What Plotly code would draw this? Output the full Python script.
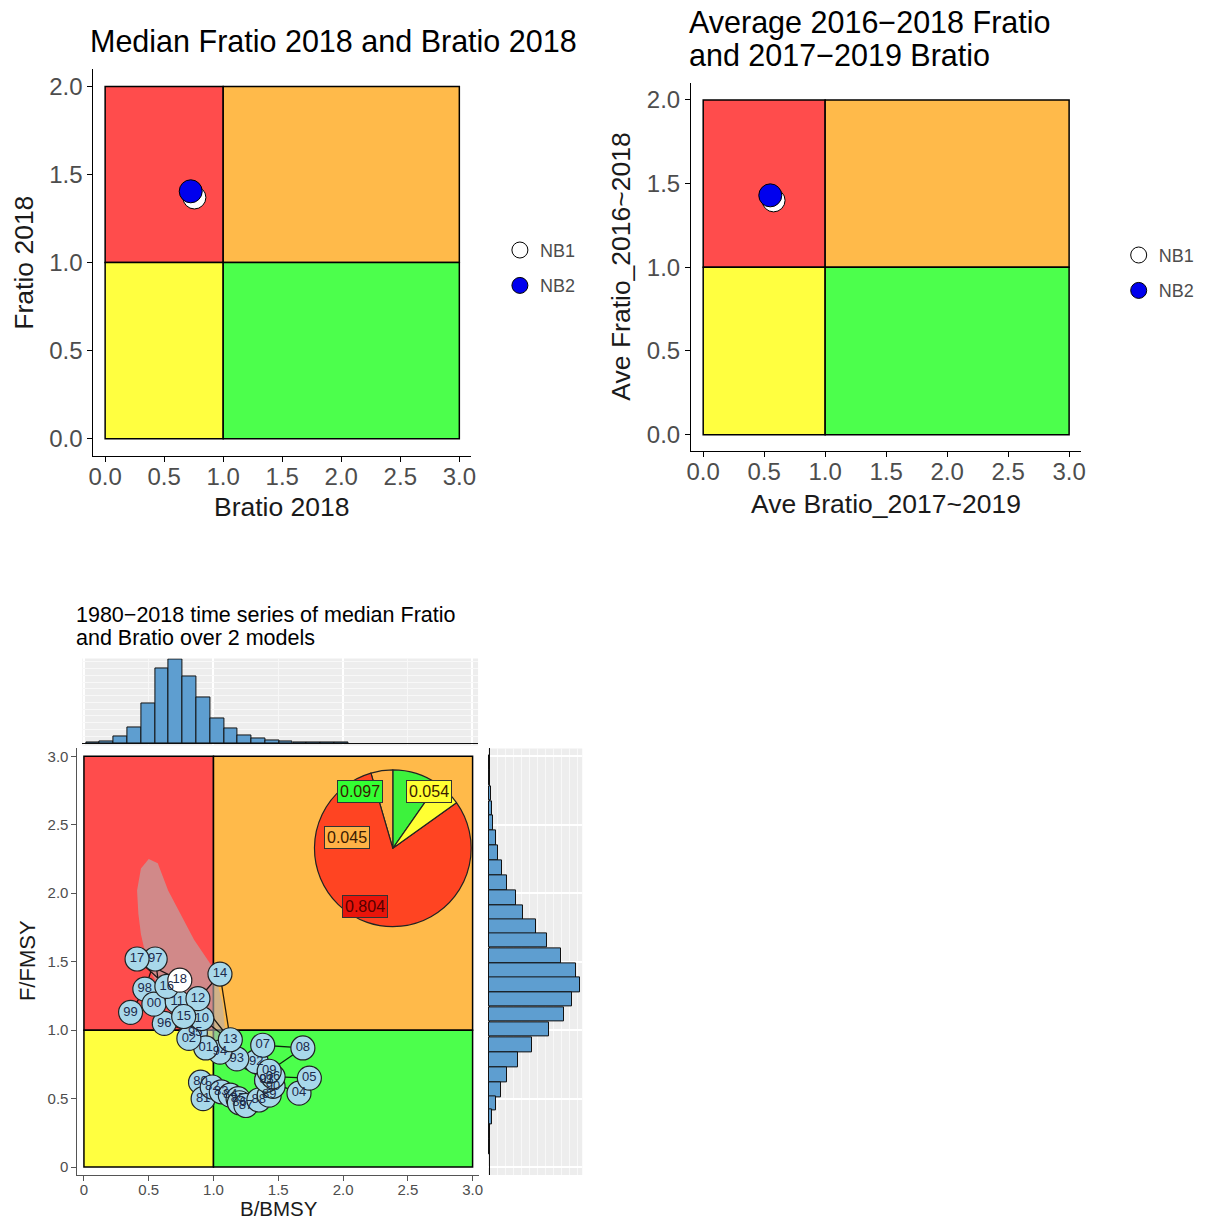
import plotly.graph_objects as go

# page is 1214x1226 with an 8px body margin -> figure is drawn at (8, 8)
PAGE_OFF = 8
W, H = 1198, 1210

# ---------------- data ----------------
models = ["NB1", "NB2"]
model_fill = ["white", "#0000EE"]
# top-left: median Fratio 2018 vs Bratio 2018
med_bratio = [0.756, 0.725]
med_fratio = [1.37, 1.405]
# top-right: averages
ave_bratio = [0.577, 0.55]
ave_fratio = [1.40, 1.43]

# time series 1980-2018 (median over 2 models)
ts_labels = ["80", "81", "82", "83", "84", "85", "86", "87", "88", "89",
             "90", "91", "92", "93", "94", "95", "96", "97", "98", "99",
             "00", "01", "02", "03", "04", "05", "06", "07", "08", "09",
             "10", "11", "12", "13", "14", "15", "16", "17", "18"]
ts_b = [0.90, 0.92, 0.99, 1.06, 1.13, 1.19, 1.20, 1.25, 1.35, 1.43,
        1.46, 1.41, 1.33, 1.18, 1.05, 0.86, 0.62, 0.55, 0.47, 0.36,
        0.54, 0.94, 0.81, 1.41, 1.66, 1.74, 1.46, 1.38, 1.69, 1.43,
        0.91, 0.72, 0.88, 1.13, 1.05, 0.77, 0.64, 0.41, 0.74]
ts_f = [0.62, 0.50, 0.585, 0.55, 0.525, 0.50, 0.47, 0.45, 0.49, 0.525,
        0.59, 0.635, 0.77, 0.79, 0.84, 0.98, 1.05, 1.52, 1.30, 1.13,
        1.19, 0.87, 0.94, 0.635, 0.54, 0.65, 0.66, 0.89, 0.87, 0.70,
        1.085, 1.21, 1.23, 0.93, 1.41, 1.10, 1.32, 1.52, 1.365]

# confidence region of final year (polygon outline)
cr_b = [0.50, 0.57, 0.65, 0.85, 1.00, 1.07, 1.09, 1.06, 1.00, 0.93, 0.80,
        0.62, 0.50, 0.44, 0.42, 0.41, 0.44, 0.50]
cr_f = [2.25, 2.22, 2.02, 1.66, 1.45, 1.20, 1.00, 0.85, 0.80, 0.86, 1.00,
        1.25, 1.45, 1.70, 1.85, 2.02, 2.18, 2.25]

# marginal histograms
hist_b_centers = [0.070, 0.177, 0.283, 0.390, 0.496, 0.603, 0.709, 0.816,
                  0.922, 1.029, 1.135, 1.242, 1.348, 1.455, 1.561, 1.668,
                  1.774, 1.881, 1.987]
hist_b_counts = [2, 5, 18, 46, 118, 220, 246, 196, 135, 73, 43, 23, 13, 8,
                 5, 2, 1, 0.5, 0.3]
hist_f_centers = [2.95, 2.84, 2.73, 2.62, 2.515, 2.405, 2.295, 2.185, 2.075,
                  1.965, 1.855, 1.755, 1.655, 1.545, 1.435, 1.33, 1.225,
                  1.115, 1.005, 0.895, 0.785, 0.675, 0.565, 0.465, 0.365,
                  0.255, 0.15]
hist_f_counts = [0.5, 1, 1.5, 2.5, 4, 7, 9, 13, 18, 27, 34, 47, 58, 72, 87,
                 91, 83, 75, 60, 43, 29, 18, 12, 7, 3, 1, 0.5]

# pie of final-year quadrant probabilities
pie_labels = ["green", "orange", "red", "yellow"]
pie_values = [0.097, 0.045, 0.804, 0.054]
pie_colors = ["#3DF23D", "#FFB347", "#FF4422", "#FFFF33"]
pie_text_bg = ["#33FF33", "#FFB347", "#E8140A", "#FFFF33"]
# label anchor positions (in B/F units)
pie_lab_b = [2.13, 2.03, 2.17, 2.66]
pie_lab_f = [2.745, 2.41, 1.905, 2.745]

# Kobe quadrants
q_x0 = [0, 1, 0, 1]
q_x1 = [1, 3, 1, 3]
q_lo = [1, 1, 0, 0]
q_colors = ["#FF4C4C", "#FFBA4A", "#FFFF40", "#4CFF4C"]
top_fmax = 2
bot_fmax = 3

# --------------- helpers (page pixel -> paper) ---------------
def px(x):
    return (x - PAGE_OFF) / W

def py(y):
    return 1 - (y - PAGE_OFF) / H

TICK = "#4D4D4D"
fig = go.Figure()

# ----- top-left -----
for i, m in enumerate(models):
    fig.add_trace(go.Scatter(
        x=[med_bratio[i]], y=[med_fratio[i]], mode="markers", name=m,
        legendgroup=m,
        marker=dict(size=23, color=model_fill[i], line=dict(color="black", width=1)),
        xaxis="x", yaxis="y", legend="legend"))
# ----- top-right -----
for i, m in enumerate(models):
    fig.add_trace(go.Scatter(
        x=[ave_bratio[i]], y=[ave_fratio[i]], mode="markers", name=m,
        legendgroup=m + "b",
        marker=dict(size=23, color=model_fill[i], line=dict(color="black", width=1)),
        xaxis="x2", yaxis="y2", legend="legend2"))

# ----- bottom main -----
fig.add_trace(go.Scatter(
    x=cr_b, y=cr_f, mode="lines", fill="toself",
    fillcolor="rgba(180,175,175,0.62)", line=dict(width=0),
    xaxis="x3", yaxis="y3", showlegend=False, hoverinfo="skip"))
fig.add_trace(go.Scatter(
    x=ts_b, y=ts_f, mode="lines", line=dict(color="rgba(0,0,0,0.85)", width=1.3),
    xaxis="x3", yaxis="y3", showlegend=False))
pt_fill = ["#A8D8EA"] * (len(ts_labels) - 1) + ["white"]
fig.add_trace(go.Scatter(
    x=ts_b, y=ts_f, mode="markers+text", text=ts_labels,
    textposition="middle center",
    textfont=dict(size=13, color="#1C2A4A", family="Liberation Sans"),
    marker=dict(size=24, color=pt_fill, line=dict(color="#222222", width=1.2)),
    xaxis="x3", yaxis="y3", showlegend=False))

# ----- marginal histograms -----
fig.add_trace(go.Bar(
    x=hist_b_centers, y=hist_b_counts, width=0.1064,
    marker=dict(color="#5E9ED0", line=dict(color="#111111", width=1)),
    xaxis="x4", yaxis="y4", showlegend=False))
fig.add_trace(go.Bar(
    y=hist_f_centers, x=hist_f_counts, width=0.108, orientation="h",
    marker=dict(color="#5E9ED0", line=dict(color="#111111", width=1)),
    xaxis="x5", yaxis="y5", showlegend=False))

# ----- pie -----
fig.add_trace(go.Pie(
    labels=pie_labels, values=pie_values, sort=False,
    direction="counterclockwise", rotation=0,
    marker=dict(colors=pie_colors, line=dict(color="#222222", width=1.2)),
    textinfo="none", hoverinfo="label+value", showlegend=False,
    domain=dict(x=[px(312), px(470)], y=[py(927), py(769)])))

# ----- shapes: quadrants -----
shapes = []
for xr, yr, fmax in [("x", "y", top_fmax), ("x2", "y2", top_fmax), ("x3", "y3", bot_fmax)]:
    for i in range(4):
        y0 = q_lo[i]
        y1 = fmax if q_lo[i] == 1 else 1
        shapes.append(dict(type="rect", xref=xr, yref=yr, x0=q_x0[i], x1=q_x1[i],
                           y0=y0, y1=y1, fillcolor=q_colors[i],
                           line=dict(color="black", width=1.5), layer="below"))
# hist panel backgrounds
for xr, yr in [("x4", "y4"), ("x5", "y5")]:
    shapes.append(dict(type="rect", xref=xr + " domain", yref=yr + " domain",
                       x0=0, x1=1, y0=0, y1=1, fillcolor="#EDEDED",
                       line=dict(width=0), layer="below"))

# ----- annotations -----
ann = []
def txt(s, x, y, size, color="black", xanchor="center", textangle=0):
    ann.append(dict(text=s, x=px(x), y=py(y), xref="paper", yref="paper",
                    showarrow=False, xanchor=xanchor, yanchor="middle",
                    textangle=textangle, font=dict(size=size, color=color)))

txt("Median Fratio 2018 and Bratio 2018", 84, 40, 30.5, xanchor="left")
txt("Average 2016\u22122018 Fratio", 688, 22, 30.5, xanchor="left")
txt("and 2017\u22122019 Bratio", 688, 54, 30.5, xanchor="left")
txt("Bratio 2018", 279, 506, 26.5, color="#1A1A1A")
txt("Fratio 2018", 19, 262, 26.5, color="#1A1A1A", textangle=-90)
txt("Ave Bratio_2017~2019", 888, 503, 26.5, color="#1A1A1A")
txt("Ave Fratio_2016~2018", 621, 266, 26.5, color="#1A1A1A", textangle=-90)
txt("1980\u22122018 time series of median Fratio", 70, 615, 21.5, xanchor="left")
txt("and Bratio over 2 models", 70, 638, 21.5, xanchor="left")
txt("B/BMSY", 276, 1208, 20.5, color="#1A1A1A")
txt("F/FMSY", 22, 960, 22, color="#1A1A1A", textangle=-90)

for i, v in enumerate(pie_values):
    ann.append(dict(text=f"{v:.3f}", x=pie_lab_b[i], y=pie_lab_f[i], xref="x3", yref="y3",
                    showarrow=False, bgcolor=pie_text_bg[i], bordercolor="#333333",
                    borderwidth=1, borderpad=2,
                    font=dict(size=16, color="#3A1A00" if i != 2 else "#550000")))

# ----- axes -----
def kobe_axis(dom, rng, tvals, ttext, size, line="black", standoff=0):
    return dict(domain=dom, range=rng, tickvals=tvals, ticktext=ttext,
                showline=True, linecolor=line, linewidth=1, ticks="outside",
                ticklen=5, tickcolor=line, tickfont=dict(size=size, color=TICK),
                ticklabelstandoff=standoff,
                showgrid=False, zeroline=False, fixedrange=True)

t3 = [0, 0.5, 1, 1.5, 2, 2.5, 3]
t3txt = ["0.0", "0.5", "1.0", "1.5", "2.0", "2.5", "3.0"]
t2 = [0, 0.5, 1, 1.5, 2]
t2txt = ["0.0", "0.5", "1.0", "1.5", "2.0"]
tb = ["0", "0.5", "1.0", "1.5", "2.0", "2.5", "3.0"]

fig.update_layout(
    width=W, height=H, autosize=False,
    margin=dict(l=0, r=0, t=0, b=0),
    paper_bgcolor="white", plot_bgcolor="rgba(0,0,0,0)",
    font=dict(family="Liberation Sans, Arial, sans-serif"),
    xaxis=dict(kobe_axis([px(89), px(470)], [-0.1, 3.1], t3, t3txt, 24, standoff=-6), anchor="y"),
    yaxis=dict(kobe_axis([py(455.6), py(68)], [-0.1, 2.1], t2, t2txt, 24), anchor="x"),
    xaxis2=dict(kobe_axis([px(691.7), px(1085.3)], [-0.1, 3.1], t3, t3txt, 24, standoff=-6), anchor="y2"),
    yaxis2=dict(kobe_axis([py(450.75), py(82.3)], [-0.1, 2.1], t2, t2txt, 24), anchor="x2"),
    xaxis3=dict(kobe_axis([px(73), px(478)], [-0.05, 3.05], t3, tb, 15, line="#555555", standoff=-4), anchor="y3"),
    yaxis3=dict(kobe_axis([py(1175), py(748)], [-0.058, 3.058], t3, tb, 15, line="#555555"), anchor="x3"),
    xaxis4=dict(domain=[px(78), px(477)], range=[-0.011, 3.044], anchor="y4",
                showticklabels=False, ticks="", showline=False, zeroline=False,
                showgrid=True, gridcolor="white", gridwidth=1.6, dtick=1, tick0=0,
                minor=dict(showgrid=True, gridcolor="#F7F7F7", gridwidth=0.8, dtick=0.5),
                fixedrange=True),
    yaxis4=dict(domain=[py(745), py(658)], range=[-7, 250], anchor="x4",
                showticklabels=False, ticks="", showline=False,
                zeroline=True, zerolinecolor="#111111", zerolinewidth=1,
                showgrid=True, gridcolor="#F8F8F8", gridwidth=1, dtick=20,
                fixedrange=True),
    xaxis5=dict(domain=[px(487), px(582)], range=[-1, 93], anchor="y5",
                showticklabels=False, ticks="", showline=False,
                zeroline=True, zerolinecolor="#111111", zerolinewidth=1,
                showgrid=True, gridcolor="#F8F8F8", gridwidth=1, dtick=8,
                fixedrange=True),
    yaxis5=dict(domain=[py(1175), py(748)], range=[-0.058, 3.058], anchor="x5",
                showticklabels=False, ticks="", showline=False, zeroline=False,
                showgrid=True, gridcolor="white", gridwidth=1.6, dtick=0.5, tick0=0,
                fixedrange=True),
    legend=dict(x=px(499), y=py(231), xanchor="left", yanchor="top",
                font=dict(size=18, color=TICK), bgcolor="rgba(0,0,0,0)",
                itemsizing="trace", tracegroupgap=9),
    legend2=dict(x=px(1123), y=py(236), xanchor="left", yanchor="top",
                 font=dict(size=18, color=TICK), bgcolor="rgba(0,0,0,0)",
                 itemsizing="trace", tracegroupgap=9),
    shapes=shapes, annotations=ann, bargap=0,
)

fig.write_html("out.html")
